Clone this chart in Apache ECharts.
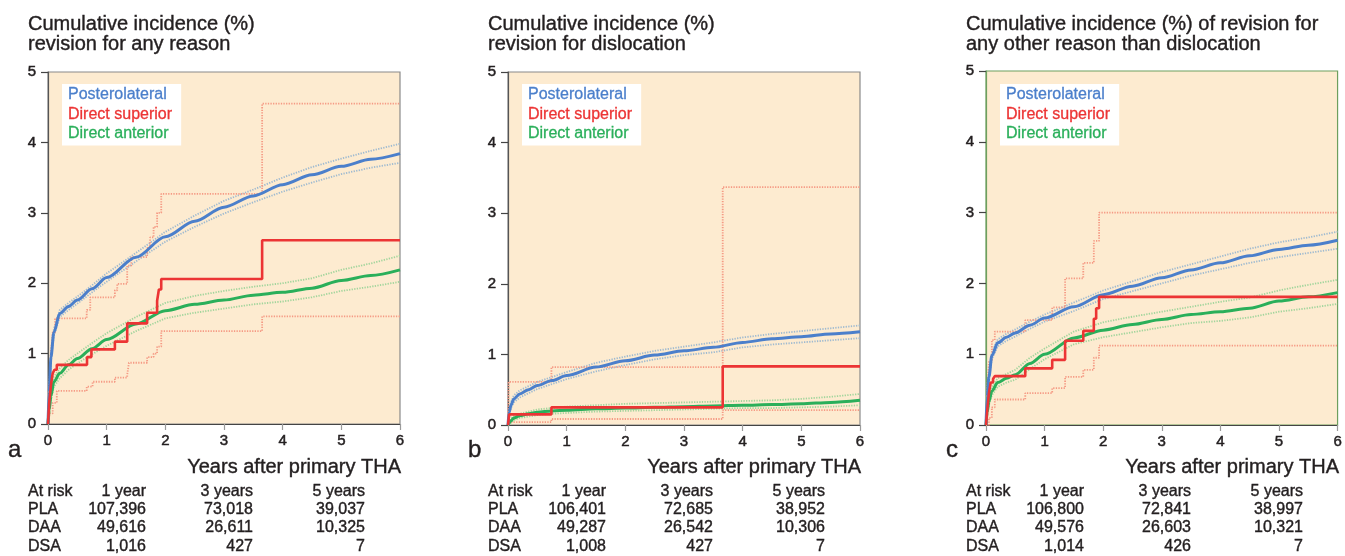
<!DOCTYPE html>
<html>
<head>
<meta charset="utf-8">
<script src="https://cdn.jsdelivr.net/npm/echarts@6/dist/echarts.min.js"></script>
<style>html,body{margin:0;padding:0;background:#fff;}#chart{width:1345px;height:556px;}</style>
</head>
<body>
<div id="chart"></div>
<script>
// ---------- DATA ----------
const T = [0, 0.02, 0.05, 0.1, 0.2, 0.35, 0.5, 0.75, 1, 1.5, 2, 2.5, 3, 3.5, 4, 4.5, 5, 5.5, 6];

// Panel a: revision for any reason
const plaA   = [0, 0.45, 0.95, 1.30, 1.57, 1.67, 1.76, 1.92, 2.08, 2.37, 2.66, 2.88, 3.08, 3.24, 3.40, 3.54, 3.66, 3.76, 3.84];
const plaALo = [0, 0.42, 0.90, 1.25, 1.52, 1.62, 1.71, 1.87, 2.02, 2.31, 2.59, 2.80, 2.99, 3.15, 3.30, 3.43, 3.55, 3.64, 3.71];
const plaAHi = [0, 0.48, 1.00, 1.35, 1.62, 1.72, 1.81, 1.97, 2.14, 2.43, 2.73, 2.96, 3.17, 3.33, 3.50, 3.65, 3.77, 3.88, 3.98];
const daaA   = [0, 0.20, 0.40, 0.60, 0.72, 0.84, 0.93, 1.07, 1.20, 1.42, 1.61, 1.70, 1.76, 1.83, 1.87, 1.93, 2.04, 2.11, 2.19];
const daaALo = [0, 0.16, 0.34, 0.53, 0.65, 0.77, 0.86, 0.99, 1.11, 1.32, 1.50, 1.58, 1.64, 1.70, 1.74, 1.80, 1.89, 1.95, 2.02];
const daaAHi = [0, 0.24, 0.46, 0.67, 0.79, 0.91, 1.00, 1.15, 1.29, 1.52, 1.72, 1.82, 1.89, 1.95, 2.00, 2.07, 2.19, 2.28, 2.39];
const dsaA   = [[0,0],[0.02,0.3],[0.05,0.55],[0.08,0.72],[0.11,0.77],[0.15,0.84],[0.665,0.95],[0.74,1.06],[1.14,1.17],[1.35,1.43],[1.69,1.58],[1.86,1.75],[1.89,1.91],[1.93,2.06],[3.65,2.61],[6,2.61]];
const dsaAHi = [[0,0],[0.02,0.5],[0.05,1.0],[0.08,1.3],[0.12,1.5],[0.66,1.62],[0.72,1.8],[1.14,1.9],[1.18,1.99],[1.35,2.25],[1.42,2.37],[1.69,2.5],[1.74,2.65],[1.8,2.8],[1.86,3.0],[1.93,3.27],[3.65,4.55],[6,4.55]];
const dsaALo = [[0,0],[0.03,0.15],[0.08,0.3],[0.15,0.47],[0.66,0.53],[0.76,0.6],[1.14,0.66],[1.35,0.7],[1.38,0.87],[1.69,0.95],[1.8,1.0],[1.86,1.1],[1.93,1.32],[3.65,1.53],[6,1.53]];

// Panel b: revision for dislocation
const plaB   = [0, 0.18, 0.28, 0.37, 0.44, 0.50, 0.56, 0.63, 0.70, 0.82, 0.91, 0.99, 1.05, 1.10, 1.17, 1.22, 1.25, 1.29, 1.32];
const plaBLo = [0, 0.15, 0.24, 0.32, 0.39, 0.45, 0.51, 0.58, 0.65, 0.76, 0.85, 0.93, 0.99, 1.03, 1.10, 1.14, 1.17, 1.20, 1.23];
const plaBHi = [0, 0.21, 0.32, 0.42, 0.49, 0.55, 0.61, 0.68, 0.75, 0.88, 0.97, 1.05, 1.11, 1.17, 1.24, 1.29, 1.33, 1.37, 1.41];
const daaB   = [0, 0.03, 0.06, 0.10, 0.13, 0.16, 0.18, 0.20, 0.21, 0.23, 0.24, 0.25, 0.26, 0.27, 0.28, 0.29, 0.30, 0.32, 0.35];
const daaBLo = [0, 0.01, 0.03, 0.07, 0.10, 0.12, 0.14, 0.16, 0.17, 0.19, 0.20, 0.21, 0.22, 0.23, 0.24, 0.24, 0.25, 0.26, 0.28];
const daaBHi = [0, 0.05, 0.09, 0.13, 0.16, 0.19, 0.22, 0.24, 0.26, 0.28, 0.30, 0.31, 0.32, 0.33, 0.34, 0.35, 0.37, 0.40, 0.44];
const dsaB   = [[0,0],[0.02,0.15],[0.74,0.25],[3.66,0.83],[6,0.83]];
const dsaBHi = [[0,0],[0.01,0.61],[0.74,0.82],[3.66,3.37],[6,3.37]];
const dsaBLo = [[0,0],[0.01,0.04],[0.74,0.085],[3.66,0.21],[6,0.21]];

// Panel c: revision for any other reason than dislocation
const plaC   = [0, 0.40, 0.68, 0.98, 1.16, 1.24, 1.30, 1.41, 1.51, 1.67, 1.84, 1.96, 2.08, 2.19, 2.29, 2.39, 2.48, 2.54, 2.61];
const plaCLo = [0, 0.37, 0.64, 0.93, 1.11, 1.19, 1.25, 1.36, 1.46, 1.61, 1.78, 1.89, 2.00, 2.11, 2.20, 2.29, 2.37, 2.43, 2.49];
const plaCHi = [0, 0.43, 0.72, 1.03, 1.21, 1.29, 1.35, 1.46, 1.56, 1.73, 1.90, 2.03, 2.16, 2.27, 2.38, 2.49, 2.58, 2.65, 2.73];
const daaC   = [0, 0.18, 0.33, 0.48, 0.60, 0.66, 0.71, 0.87, 1.00, 1.23, 1.34, 1.42, 1.49, 1.56, 1.60, 1.65, 1.75, 1.81, 1.87];
const daaCLo = [0, 0.15, 0.28, 0.42, 0.54, 0.60, 0.64, 0.79, 0.93, 1.14, 1.24, 1.31, 1.38, 1.44, 1.47, 1.52, 1.60, 1.65, 1.71];
const daaCHi = [0, 0.21, 0.38, 0.54, 0.66, 0.72, 0.78, 0.95, 1.08, 1.32, 1.45, 1.53, 1.60, 1.67, 1.74, 1.80, 1.90, 1.98, 2.05];
const dsaC   = [[0,0],[0.02,0.2],[0.05,0.45],[0.08,0.6],[0.12,0.65],[0.15,0.69],[0.67,0.8],[1.13,0.92],[1.35,1.19],[1.66,1.33],[1.84,1.5],[1.88,1.65],[1.93,1.81],[6,1.81]];
const dsaCHi = [[0,0],[0.02,0.5],[0.05,0.9],[0.1,1.2],[0.15,1.32],[0.67,1.48],[1.13,1.66],[1.35,2.07],[1.66,2.29],[1.84,2.6],[1.93,3.0],[6,3.0]];
const dsaCLo = [[0,0],[0.05,0.1],[0.1,0.25],[0.15,0.36],[0.67,0.45],[1.13,0.52],[1.35,0.68],[1.66,0.78],[1.84,0.95],[1.93,1.12],[6,1.12]];

// Labels
const seriesNames = ['Posterolateral', 'Direct superior', 'Direct anterior'];
const panelLetters = ['a', 'b', 'c'];
const panelTitles = [
  'Cumulative incidence (%)\nrevision for any reason',
  'Cumulative incidence (%)\nrevision for dislocation',
  'Cumulative incidence (%) of revision for\nany other reason than dislocation'
];
const xAxisTitle = 'Years after primary THA';
const riskHeader = ['At risk', '1 year', '3 years', '5 years'];
const riskGroups = ['PLA', 'DAA', 'DSA'];
const riskA = [[107396, 73018, 39037], [49616, 26611, 10325], [1016, 427, 7]];
const riskB = [[106401, 72685, 38952], [49287, 26542, 10306], [1008, 427, 7]];
const riskC = [[106800, 72841, 38997], [49576, 26603, 10321], [1014, 426, 7]];

// ---------- BUILD ----------
const FONT = 'Liberation Sans, Arial, Helvetica, sans-serif';
const INK = '#231f20';
const C_BLUE = '#4b7fcb', C_RED = '#ec3434', C_GREEN = '#2aaf5a';
const C_BLUE_CI = '#9fbad0', C_RED_CI = '#f59a84', C_GREEN_CI = '#a2d59c';
const offsets = [0, 460, 938];
const grids = [
  {left: 48, top: 72, width: 352, height: 352},
  {left: 508, top: 72, width: 352, height: 353},
  {left: 986, top: 71, width: 352, height: 354}
];
const panels = [
  {pla: plaA, plaLo: plaALo, plaHi: plaAHi, daa: daaA, daaLo: daaALo, daaHi: daaAHi, dsa: dsaA, dsaLo: dsaALo, dsaHi: dsaAHi, risk: riskA},
  {pla: plaB, plaLo: plaBLo, plaHi: plaBHi, daa: daaB, daaLo: daaBLo, daaHi: daaBHi, dsa: dsaB, dsaLo: dsaBLo, dsaHi: dsaBHi, risk: riskB},
  {pla: plaC, plaLo: plaCLo, plaHi: plaCHi, daa: daaC, daaLo: daaCLo, daaHi: daaCHi, dsa: dsaC, dsaLo: dsaCLo, dsaHi: dsaCHi, risk: riskC}
];
const borderColors = ['#8a8a8a', '#8a8a8a', '#6d9f5e'];
const yLineColors = ['#555', '#555', '#6d9f5e'];

const pairs = arr => T.map((t, k) => [t, arr[k]]);

const series = [];
panels.forEach((p, i) => {
  const base = {type: 'line', xAxisIndex: i, yAxisIndex: i, symbol: 'none', showSymbol: false, silent: true, animation: false};
  const ci = (name, data, color, step) => Object.assign({}, base, {
    name: name, data: data, step: step || false, z: 2,
    lineStyle: {color: color, width: 1.8, type: [1.3, 1.3]}
  });
  series.push(ci(seriesNames[0] + ' CI lo', pairs(p.plaLo), C_BLUE_CI));
  series.push(ci(seriesNames[0] + ' CI hi', pairs(p.plaHi), C_BLUE_CI));
  series.push(ci(seriesNames[2] + ' CI lo', pairs(p.daaLo), C_GREEN_CI));
  series.push(ci(seriesNames[2] + ' CI hi', pairs(p.daaHi), C_GREEN_CI));
  series.push(ci(seriesNames[1] + ' CI lo', p.dsaLo, C_RED_CI, 'end'));
  series.push(ci(seriesNames[1] + ' CI hi', p.dsaHi, C_RED_CI, 'end'));
  series.push(Object.assign({}, base, {name: seriesNames[2], data: pairs(p.daa), smooth: 0.3, smoothMonotone: 'x', z: 3,
    lineStyle: {color: C_GREEN, width: 3}, itemStyle: {color: C_GREEN}}));
  series.push(Object.assign({}, base, {name: seriesNames[0], data: pairs(p.pla), smooth: 0.3, smoothMonotone: 'x', z: 4,
    lineStyle: {color: C_BLUE, width: 3}, itemStyle: {color: C_BLUE}}));
  series.push(Object.assign({}, base, {name: seriesNames[1], data: p.dsa, step: 'end', z: 5,
    lineStyle: {color: C_RED, width: 2.6}, itemStyle: {color: C_RED}}));
});

const labelStyle = {fontSize: 15, color: INK, fontFamily: FONT, textBorderColor: INK, textBorderWidth: 0.5};
const xAxes = grids.map((g, i) => ({
  gridIndex: i, type: 'value', min: 0, max: 6, interval: 1,
  axisLine: {show: true, onZero: false, lineStyle: {color: '#444', width: 1.2}},
  axisTick: {show: true, length: 6, lineStyle: {color: '#9a9a9a', width: 1.2}},
  axisLabel: Object.assign({margin: 9}, labelStyle),
  splitLine: {show: false}
}));
const yAxes = grids.map((g, i) => ({
  gridIndex: i, type: 'value', min: 0, max: 5, interval: 1,
  axisLine: {show: true, onZero: false, lineStyle: {color: yLineColors[i], width: 1.2}},
  axisTick: {show: true, length: 7, lineStyle: {color: '#444', width: 1.2}},
  axisLabel: Object.assign({margin: 12}, labelStyle),
  splitLine: {show: false}
}));

const titles = panelTitles.map((t, i) => ({
  text: t, left: 28 + offsets[i], top: 14, padding: 0,
  textStyle: {fontSize: 20, lineHeight: 20, fontWeight: 'normal', color: INK, fontFamily: FONT,
    textBorderColor: INK, textBorderWidth: 0.4}
}));

const legends = grids.map((g, i) => ({
  left: g.left + 14, top: 84, orient: 'vertical', icon: 'rect', itemWidth: 0, itemHeight: 0, itemGap: 0,
  padding: [1, 9, 2, 1], backgroundColor: '#ffffff', selectedMode: false,
  itemStyle: {opacity: 0}, lineStyle: {opacity: 0},
  textStyle: {fontSize: 16, lineHeight: 19.5, fontFamily: FONT},
  data: seriesNames.map((n, j) => {
    const col = [C_BLUE, C_RED, C_GREEN][j];
    return {name: n, textStyle: {color: col, textBorderColor: col, textBorderWidth: 0.3}};
  })
}));

const graphics = [];
const txt = (text, x, y, size, align) => ({
  type: 'text', silent: true,
  style: {text: text, x: x, y: y, align: align, verticalAlign: 'middle', fontSize: size,
    fontFamily: FONT, fill: INK, stroke: INK, lineWidth: 0.4}
});
panels.forEach((p, i) => {
  const o = offsets[i];
  graphics.push(txt(panelLetters[i], 8 + o, 450, 24, 'left'));
  graphics.push(txt(xAxisTitle, 401 + o, 467, 20, 'right'));
  const colRight = [146, 253, 365];
  const rowY = [491.5, 509.7, 528, 546.2];
  graphics.push(txt(riskHeader[0], 28 + o, rowY[0], 16, 'left'));
  colRight.forEach((cx, c) => graphics.push(txt(riskHeader[c + 1], cx + o, rowY[0], 16, 'right')));
  riskGroups.forEach((gname, r) => {
    graphics.push(txt(gname, 28 + o, rowY[r + 1], 16, 'left'));
    colRight.forEach((cx, c) => graphics.push(txt(p.risk[r][c].toLocaleString('en-US'), cx + o, rowY[r + 1], 16, 'right')));
  });
});

const option = {
  animation: false,
  backgroundColor: '#ffffff',
  title: titles,
  legend: legends,
  grid: grids.map((g, i) => Object.assign({show: true, backgroundColor: '#fdebd0', borderColor: borderColors[i], borderWidth: 1.2}, g)),
  xAxis: xAxes,
  yAxis: yAxes,
  series: series,
  graphic: graphics
};

const chart = echarts.init(document.getElementById('chart'), null, {renderer: 'canvas'});
chart.setOption(option);
</script>
</body>
</html>
